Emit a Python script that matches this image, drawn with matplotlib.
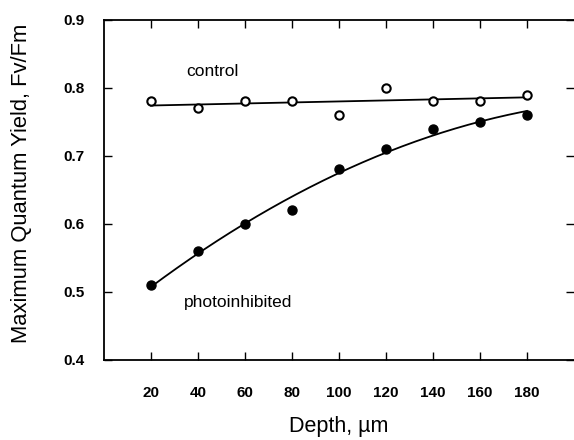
import numpy as np
import matplotlib.pyplot as plt

plt.rcParams['font.family'] = ['Liberation Sans', 'DejaVu Sans']

# depth (um) and Fv/Fm readings
depth = [20, 40, 60, 80, 100, 120, 140, 160, 180]
control = [0.78, 0.77, 0.78, 0.78, 0.76, 0.80, 0.78, 0.78, 0.79]
photoinhibited = [0.51, 0.56, 0.60, 0.62, 0.68, 0.71, 0.74, 0.75, 0.76]

# regression curves through the points
d = np.array(depth)
x_fit = np.linspace(d.min(), d.max(), 200)
c_fit = np.polyval(np.polyfit(d, control, 1), x_fit)
p_fit = np.polyval(np.polyfit(d, photoinhibited, 2), x_fit)

fig = plt.figure(figsize=(5.74, 4.4), dpi=100)
ax = fig.add_axes([0.181, 0.182, 0.819, 0.773])

ax.plot(x_fit, c_fit, color='black', lw=1.3)
ax.plot(x_fit, p_fit, color='black', lw=1.3)
ax.plot(d, control, 'o', ms=6, mfc='white', mec='black', mew=1.5)
ax.plot(d, photoinhibited, 'o', ms=6.5, mfc='black', mec='black')

ax.text(46, 0.824, 'control', ha='center', va='center', fontsize=12.5)
ax.text(57, 0.485, 'photoinhibited', ha='center', va='center', fontsize=12.5)

ax.set_xlim(0, 200)
ax.set_ylim(0.4, 0.9)
ax.set_xticks(depth)
ax.set_yticks([0.4, 0.5, 0.6, 0.7, 0.8, 0.9])
ax.tick_params(direction='in', top=True, right=True, length=6, width=1,
               labelsize=11)
ax.tick_params(axis='y', pad=14)
ax.tick_params(axis='x', pad=19)
for lab in ax.get_xticklabels() + ax.get_yticklabels():
    lab.set_fontweight('bold')
ax.spines['right'].set_visible(False)
for s in ['left', 'top', 'bottom']:
    ax.spines[s].set_linewidth(1.3)

ax.set_xlabel('Depth, µm', fontsize=15.5, labelpad=11)
ax.set_ylabel('Maximum Quantum Yield, Fv/Fm', fontsize=15.8, labelpad=21)
ax.yaxis.set_label_coords(-0.152, 0.52)

fig.savefig('out.png', dpi=100)
